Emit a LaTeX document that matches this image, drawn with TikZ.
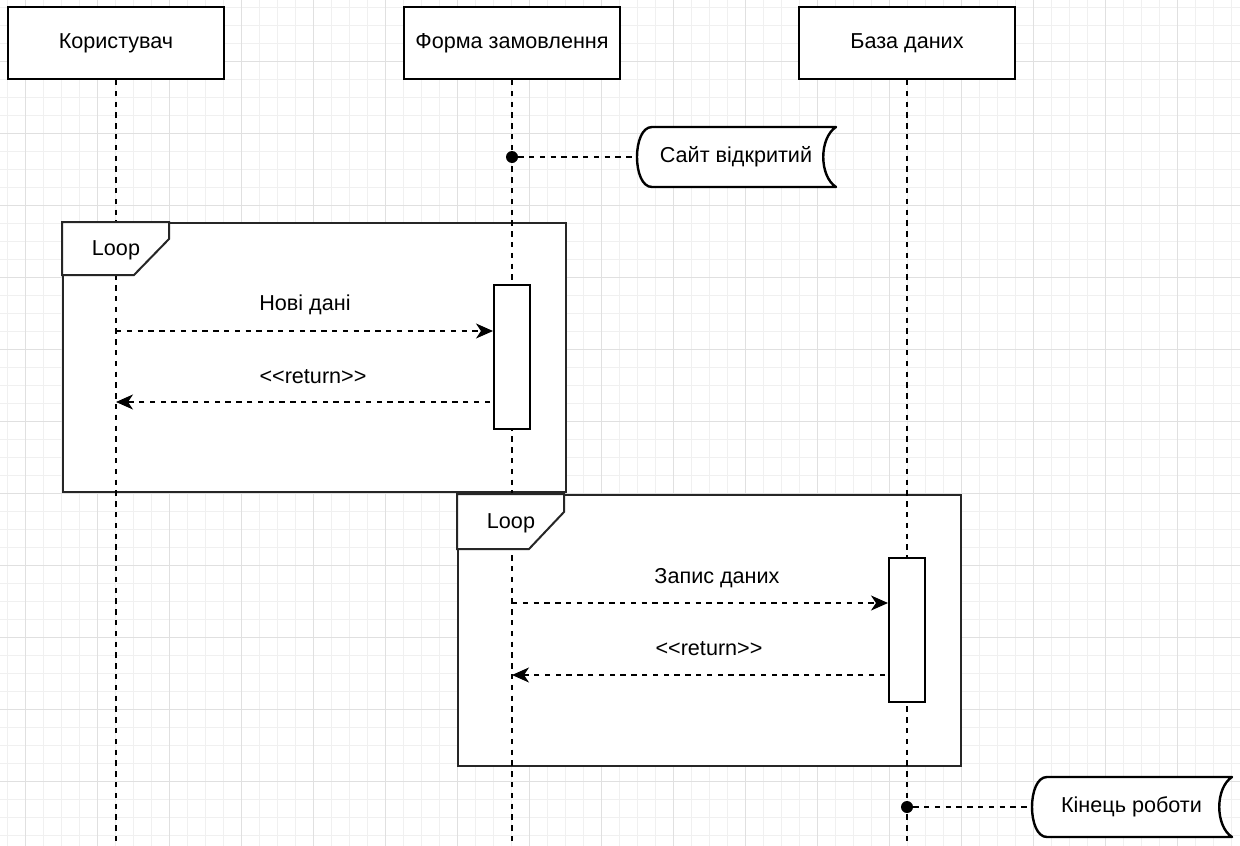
\documentclass[tikz,border=0pt]{standalone}
\usepackage{fontspec}
\setmainfont{Liberation Sans}[Ligatures=TeXOff]
\usetikzlibrary{arrows.meta}
\begin{document}
\begin{tikzpicture}[x=1pt,y=-1pt,
  every node/.style={font=\fontsize{21.6pt}{26pt}\selectfont, inner sep=0pt, text=black},
  minorg/.style={draw=black!6, line width=1pt},
  majorg/.style={draw=black!12, line width=1pt},
  hdr/.style={draw=black, line width=2pt, fill=white, minimum width=216pt, minimum height=72pt},
  framebox/.style={draw=black!85, line width=2pt, fill=white},
  tagbox/.style={draw=black!85, line width=2pt, fill=white},
  act/.style={draw=black, line width=2pt, fill=white, minimum width=36pt, minimum height=144pt},
  life/.style={draw=black, line width=1.8pt, dash pattern=on 5.4pt off 5.4pt},
  msg/.style={draw=black, line width=1.8pt, dash pattern=on 5.4pt off 5.4pt, -{Stealth[length=17pt,width=15pt,inset=5pt]}},
  dotn/.style={circle, fill=black, minimum size=12pt},
  notepath/.style={draw=black, line width=2.4pt, fill=white, line join=round},
  notebox/.style={minimum width=199pt, minimum height=60pt}
]
\useasboundingbox (0,0) rectangle (1240,846);
\fill[white] (0,0) rectangle (1240,846);
% grid
\foreach \x in {7,25,...,1240} \draw[minorg] (\x,0) -- (\x,846);
\foreach \y in {7,25,...,846} \draw[minorg] (0,\y) -- (1240,\y);
\foreach \x in {25,97,...,1240} \draw[majorg] (\x,0) -- (\x,846);
\foreach \y in {61,133,...,846} \draw[majorg] (0,\y) -- (1240,\y);

% loop frames
\node[framebox, minimum width=503pt, minimum height=269pt] (f1) at (314.5,357.5) {};
\node[framebox, minimum width=503pt, minimum height=271pt] (f2) at (709.5,630.5) {};

% headers
\node[hdr] (u) at (116,43) {Користувач};
\node[hdr] (fm) at (512,43) {Форма замовлення};
\node[hdr] (db) at (907,43) {База даних};

% lifeline ends
\coordinate (ue) at (116,846);
\coordinate (fe) at (512,846);
\coordinate (de) at (907,846);
\draw[life] (u.south) -- (ue);
\draw[life] (fm.south) -- (fe);
\draw[life] (db.south) -- (de);

% loop tags
\draw[tagbox] (f1.north west) -- ++(107,0) -- ++(0,17) -- ++(-35,36) -- ++(-72,0) -- cycle;
\node (t1) at (116,250) {Loop};
\draw[tagbox] (f2.north west) -- ++(107,0) -- ++(0,18) -- ++(-35,37) -- ++(-72,0) -- cycle;
\node (t2) at (511,523) {Loop};

% activations
\node[act] (a1) at (512,357) {};
\node[act] (a2) at (907,630) {};

% messages
\coordinate (m1) at (116,331);
\draw[msg] (m1) -- (m1 -| a1.west);
\node (l1) at (305,305) {Нові дані};
\coordinate (r1) at (490,402);
\draw[msg] (r1) -- (r1 -| u.south);
\node (l2) at (313,377) {<<return>>};

\coordinate (m2) at (512,603);
\draw[msg] (m2) -- (m2 -| a2.west);
\node (l3) at (717,578) {Запис даних};
\coordinate (r2) at (885,675);
\draw[msg] (r2) -- (r2 -| fm.south);
\node (l4) at (709,649) {<<return>>};

% notes
\draw[notepath] (652,127) -- (836,127) .. controls (819,138) and (819,176) .. (836,187) -- (652,187) .. controls (632,187) and (632,127) .. (652,127) -- cycle;
\node[notebox] (n1) at (736,157) {Сайт відкритий};
\node[dotn] (d1) at (512,157) {};
\draw[life] (d1) -- (n1.west);

\draw[notepath] (1047,777) -- (1232,777) .. controls (1215,788) and (1215,826) .. (1232,837) -- (1047,837) .. controls (1027,837) and (1027,777) .. (1047,777) -- cycle;
\node[notebox] (n2) at (1131.5,807) {Кінець роботи};
\node[dotn] (d2) at (907,807) {};
\draw[life] (d2) -- (n2.west);
\end{tikzpicture}
\end{document}
